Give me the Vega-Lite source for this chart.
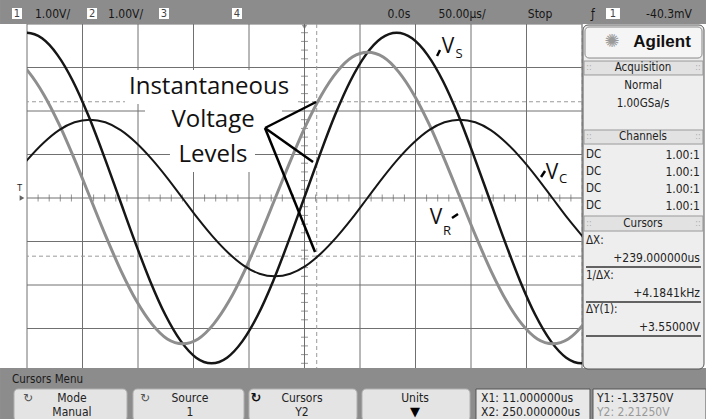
{
"$schema": "https://vega.github.io/schema/vega-lite/v6.json",
"width": 555, "height": 348,
"autosize": "none",
"padding": {"left": 27, "top": 24, "right": 124, "bottom": 47},
"background": "white",
"config": {"view": {"stroke": null}, "axis": {"disable": true}},
"datasets": {
"curves": [
{"s":"Vs","t":-264.2,"v":3.67},{"s":"Vs","t":-250.3,"v":3.8},{"s":"Vs","t":-236.4,"v":3.67},{"s":"Vs","t":-222.6,"v":3.29},{"s":"Vs","t":-208.7,"v":2.69},{"s":"Vs","t":-194.8,"v":1.9},{"s":"Vs","t":-180.9,"v":0.98},{"s":"Vs","t":-167.0,"v":0},{"s":"Vs","t":-153.1,"v":-0.98},{"s":"Vs","t":-139.2,"v":-1.9},{"s":"Vs","t":-125.3,"v":-2.69},{"s":"Vs","t":-111.4,"v":-3.29},{"s":"Vs","t":-97.6,"v":-3.67},{"s":"Vs","t":-83.7,"v":-3.8},{"s":"Vs","t":-69.8,"v":-3.67},{"s":"Vs","t":-55.9,"v":-3.29},{"s":"Vs","t":-42.0,"v":-2.69},{"s":"Vs","t":-28.1,"v":-1.9},{"s":"Vs","t":-14.2,"v":-0.98},{"s":"Vs","t":-0.3,"v":0},{"s":"Vs","t":13.6,"v":0.98},{"s":"Vs","t":27.4,"v":1.9},{"s":"Vs","t":41.3,"v":2.69},{"s":"Vs","t":55.2,"v":3.29},{"s":"Vs","t":69.1,"v":3.67},{"s":"Vs","t":83,"v":3.8},{"s":"Vs","t":96.9,"v":3.67},{"s":"Vs","t":110.8,"v":3.29},{"s":"Vs","t":124.7,"v":2.69},{"s":"Vs","t":138.6,"v":1.9},{"s":"Vs","t":152.4,"v":0.98},{"s":"Vs","t":166.3,"v":0},{"s":"Vs","t":180.2,"v":-0.98},{"s":"Vs","t":194.1,"v":-1.9},{"s":"Vs","t":208,"v":-2.69},{"s":"Vs","t":221.9,"v":-3.29},{"s":"Vs","t":235.8,"v":-3.67},{"s":"Vs","t":249.7,"v":-3.8},{"s":"Vs","t":263.6,"v":-3.67},
{"s":"VR","t":-262.4,"v":3.24},{"s":"VR","t":-248.6,"v":2.9},{"s":"VR","t":-234.7,"v":2.37},{"s":"VR","t":-220.8,"v":1.68},{"s":"VR","t":-206.9,"v":0.87},{"s":"VR","t":-193.0,"v":0},{"s":"VR","t":-179.1,"v":-0.87},{"s":"VR","t":-165.2,"v":-1.68},{"s":"VR","t":-151.3,"v":-2.37},{"s":"VR","t":-137.4,"v":-2.9},{"s":"VR","t":-123.6,"v":-3.24},{"s":"VR","t":-109.7,"v":-3.35},{"s":"VR","t":-95.8,"v":-3.24},{"s":"VR","t":-81.9,"v":-2.9},{"s":"VR","t":-68.0,"v":-2.37},{"s":"VR","t":-54.1,"v":-1.68},{"s":"VR","t":-40.2,"v":-0.87},{"s":"VR","t":-26.3,"v":0},{"s":"VR","t":-12.4,"v":0.87},{"s":"VR","t":1.4,"v":1.68},{"s":"VR","t":15.3,"v":2.37},{"s":"VR","t":29.2,"v":2.9},{"s":"VR","t":43.1,"v":3.24},{"s":"VR","t":57,"v":3.35},{"s":"VR","t":70.9,"v":3.24},{"s":"VR","t":84.8,"v":2.9},{"s":"VR","t":98.7,"v":2.37},{"s":"VR","t":112.6,"v":1.68},{"s":"VR","t":126.4,"v":0.87},{"s":"VR","t":140.3,"v":0},{"s":"VR","t":154.2,"v":-0.87},{"s":"VR","t":168.1,"v":-1.68},{"s":"VR","t":182,"v":-2.37},{"s":"VR","t":195.9,"v":-2.9},{"s":"VR","t":209.8,"v":-3.24},{"s":"VR","t":223.7,"v":-3.35},{"s":"VR","t":237.6,"v":-3.24},{"s":"VR","t":251.4,"v":-2.9},{"s":"VR","t":265.3,"v":-2.37},
{"s":"Vc","t":-262.8,"v":0.47},{"s":"Vc","t":-248.9,"v":0.9},{"s":"Vc","t":-235.0,"v":1.27},{"s":"Vc","t":-221.1,"v":1.56},{"s":"Vc","t":-207.2,"v":1.74},{"s":"Vc","t":-193.3,"v":1.8},{"s":"Vc","t":-179.4,"v":1.74},{"s":"Vc","t":-165.6,"v":1.56},{"s":"Vc","t":-151.7,"v":1.27},{"s":"Vc","t":-137.8,"v":0.9},{"s":"Vc","t":-123.9,"v":0.47},{"s":"Vc","t":-110.0,"v":0},{"s":"Vc","t":-96.1,"v":-0.47},{"s":"Vc","t":-82.2,"v":-0.9},{"s":"Vc","t":-68.3,"v":-1.27},{"s":"Vc","t":-54.4,"v":-1.56},{"s":"Vc","t":-40.6,"v":-1.74},{"s":"Vc","t":-26.7,"v":-1.8},{"s":"Vc","t":-12.8,"v":-1.74},{"s":"Vc","t":1.1,"v":-1.56},{"s":"Vc","t":15.0,"v":-1.27},{"s":"Vc","t":28.9,"v":-0.9},{"s":"Vc","t":42.8,"v":-0.47},{"s":"Vc","t":56.7,"v":0},{"s":"Vc","t":70.6,"v":0.47},{"s":"Vc","t":84.4,"v":0.9},{"s":"Vc","t":98.3,"v":1.27},{"s":"Vc","t":112.2,"v":1.56},{"s":"Vc","t":126.1,"v":1.74},{"s":"Vc","t":140,"v":1.8},{"s":"Vc","t":153.9,"v":1.74},{"s":"Vc","t":167.8,"v":1.56},{"s":"Vc","t":181.7,"v":1.27},{"s":"Vc","t":195.6,"v":0.9},{"s":"Vc","t":209.4,"v":0.47},{"s":"Vc","t":223.3,"v":0},{"s":"Vc","t":237.2,"v":-0.47},{"s":"Vc","t":251.1,"v":-0.9}
],
"vgrid": [{"t":-250},{"t":-200},{"t":-150},{"t":-100},{"t":-50},{"t":0},{"t":50},{"t":100},{"t":150},{"t":200},{"t":250}],
"hgrid": [{"v":-4},{"v":-3},{"v":-2},{"v":-1},{"v":0},{"v":1},{"v":2},{"v":3},{"v":4}],
"xticks": [{"t":-240},{"t":-230},{"t":-220},{"t":-210},{"t":-190},{"t":-180},{"t":-170},{"t":-160},{"t":-140},{"t":-130},{"t":-120},{"t":-110},{"t":-90},{"t":-80},{"t":-70},{"t":-60},{"t":-40},{"t":-30},{"t":-20},{"t":-10},{"t":10},{"t":20},{"t":30},{"t":40},{"t":60},{"t":70},{"t":80},{"t":90},{"t":110},{"t":120},{"t":130},{"t":140},{"t":160},{"t":170},{"t":180},{"t":190},{"t":210},{"t":220},{"t":230},{"t":240}],
"yticks": [{"v":-3.8},{"v":-3.6},{"v":-3.4},{"v":-3.2},{"v":-2.8},{"v":-2.6},{"v":-2.4},{"v":-2.2},{"v":-1.8},{"v":-1.6},{"v":-1.4},{"v":-1.2},{"v":-0.8},{"v":-0.6},{"v":-0.4},{"v":-0.2},{"v":0.2},{"v":0.4},{"v":0.6},{"v":0.8},{"v":1.2},{"v":1.4},{"v":1.6},{"v":1.8},{"v":2.2},{"v":2.4},{"v":2.6},{"v":2.8},{"v":3.2},{"v":3.4},{"v":3.6},{"v":3.8}],
"cursH": [{"v":2.2125},{"v":-1.3375}],
"cursV": [{"t":11},{"t":250}],
"rects": [
{"k":"bar","t":-274.3,"t2":361.7,"v":4.552,"v2":4.0},
{"k":"bar","t":-274.3,"t2":361.7,"v":-3.908,"v2":-5.1},
{"k":"panel","t":250.9,"t2":359.9,"v":3.977,"v2":-3.931},
{"k":"box","t":252.7,"t2":358.1,"v":3.931,"v2":3.218},
{"k":"hdr","t":251.8,"t2":359.0,"v":3.149,"v2":2.828},
{"k":"hdr","t":251.8,"t2":359.0,"v":1.563,"v2":1.241},
{"k":"hdr","t":251.8,"t2":359.0,"v":-0.414,"v2":-0.759},
{"k":"btn","t":-261.7,"t2":-159.9,"v":-4.391,"v2":-5.126},
{"k":"btn","t":-154.5,"t2":-54.5,"v":-4.391,"v2":-5.126},
{"k":"btn","t":-50.0,"t2":47.3,"v":-4.391,"v2":-5.126},
{"k":"btn","t":51.8,"t2":149.1,"v":-4.391,"v2":-5.126},
{"k":"info","t":154.5,"t2":257.2,"v":-4.391,"v2":-5.126},
{"k":"info","t":259.9,"t2":361.7,"v":-4.391,"v2":-5.126},
{"k":"white","t":-161.7,"t2":-6.8,"v":2.943,"v2":2.161},
{"k":"white","t":-143.7,"t2":-20.3,"v":2.161,"v2":1.379},
{"k":"white","t":-121.2,"t2":-44.6,"v":1.379,"v2":0.598},
{"k":"num","t":-263.5,"t2":-254.5,"v":4.368,"v2":4.115},
{"k":"num","t":-195.9,"t2":-186.9,"v":4.368,"v2":4.115},
{"k":"num","t":-131.1,"t2":-122.1,"v":4.368,"v2":4.115},
{"k":"num","t":-65.3,"t2":-56.3,"v":4.368,"v2":4.115},
{"k":"num","t":271.6,"t2":284.2,"v":4.368,"v2":4.115}
],
"lines": [
{"k":"ul","t":253.6,"t2":357.2,"v":-1.586,"v2":-1.586},
{"k":"ul","t":253.6,"t2":357.2,"v":-2.391,"v2":-2.391},
{"k":"ul","t":253.6,"t2":357.2,"v":-3.172,"v2":-3.172},
{"k":"ptr","t":-35.6,"t2":10.4,"v":1.609,"v2":2.207},
{"k":"ptr","t":-35.6,"t2":7.7,"v":1.609,"v2":0.828},
{"k":"ptr","t":-35.6,"t2":9.5,"v":1.609,"v2":-1.241},
{"k":"ptr","t":119.4,"t2":122.1,"v":3.264,"v2":3.402},
{"k":"ptr","t":213.1,"t2":216.7,"v":0.483,"v2":0.621},
{"k":"ptr","t":132.9,"t2":138.3,"v":-0.46,"v2":-0.368}
],
"texts": [
{"k":"top","t":-242.8,"v":4.241,"label":"1.00V/"},
{"k":"top","t":-177.0,"v":4.241,"label":"1.00V/"},
{"k":"topc","t":85.1,"v":4.241,"label":"0.0s"},
{"k":"topc","t":141.9,"v":4.241,"label":"50.00µs/"},
{"k":"topc","t":212.2,"v":4.241,"label":"Stop"},
{"k":"topc","t":259.9,"v":4.241,"label":"ƒ"},
{"k":"topc","t":328.4,"v":4.241,"label":"-40.3mV"},
{"k":"num","t":-259.0,"v":4.241,"label":"1"},
{"k":"num","t":-191.4,"v":4.241,"label":"2"},
{"k":"num","t":-126.6,"v":4.241,"label":"3"},
{"k":"num","t":-60.8,"v":4.241,"label":"4"},
{"k":"num","t":277.9,"v":4.241,"label":"1"},
{"k":"brand","t":322.1,"v":3.586,"label":"Agilent"},
{"k":"star","t":277.0,"v":3.586,"label":"✺"},
{"k":"pc","t":305.0,"v":2.989,"label":"Acquisition"},
{"k":"pc","t":305.0,"v":2.575,"label":"Normal"},
{"k":"pc","t":305.0,"v":2.161,"label":"1.00GSa/s"},
{"k":"pc","t":305.0,"v":1.402,"label":"Channels"},
{"k":"pc","t":305.0,"v":-0.598,"label":"Cursors"},
{"k":"grip","t":256.3,"v":2.989,"label":"::"},
{"k":"grip","t":354.5,"v":2.989,"label":"::"},
{"k":"grip","t":256.3,"v":1.402,"label":"::"},
{"k":"grip","t":354.5,"v":1.402,"label":"::"},
{"k":"grip","t":256.3,"v":-0.598,"label":"::"},
{"k":"grip","t":354.5,"v":-0.598,"label":"::"},
{"k":"pl","t":253.6,"v":0.989,"label":"DC"},
{"k":"pl","t":253.6,"v":0.598,"label":"DC"},
{"k":"pl","t":253.6,"v":0.207,"label":"DC"},
{"k":"pl","t":253.6,"v":-0.184,"label":"DC"},
{"k":"pl","t":253.6,"v":-0.989,"label":"ΔX:"},
{"k":"pl","t":253.6,"v":-1.793,"label":"1/ΔX:"},
{"k":"pl","t":253.6,"v":-2.575,"label":"ΔY(1):"},
{"k":"pr","t":356.3,"v":0.989,"label":"1.00:1"},
{"k":"pr","t":356.3,"v":0.598,"label":"1.00:1"},
{"k":"pr","t":356.3,"v":0.207,"label":"1.00:1"},
{"k":"pr","t":356.3,"v":-0.184,"label":"1.00:1"},
{"k":"pr","t":356.3,"v":-1.379,"label":"+239.000000us"},
{"k":"pr","t":356.3,"v":-2.184,"label":"+4.1841kHz"},
{"k":"pr","t":356.3,"v":-2.966,"label":"+3.55000V"},
{"k":"menu","t":-263.5,"v":-4.184,"label":"Cursors Menu"},
{"k":"btn","t":-209.5,"v":-4.598,"label":"Mode"},
{"k":"btn","t":-209.5,"v":-4.92,"label":"Manual"},
{"k":"btn","t":-103.2,"v":-4.598,"label":"Source"},
{"k":"btn","t":-103.2,"v":-4.92,"label":"1"},
{"k":"btn","t":-2.3,"v":-4.598,"label":"Cursors"},
{"k":"btn","t":-2.3,"v":-4.92,"label":"Y2"},
{"k":"btn","t":99.5,"v":-4.598,"label":"Units"},
{"k":"icon","t":-249.1,"v":-4.598,"label":"↻"},
{"k":"icon","t":-143.7,"v":-4.598,"label":"↻"},
{"k":"iconb","t":-43.7,"v":-4.598,"label":"↻"},
{"k":"arrow","t":99.5,"v":-4.92,"label":"▼"},
{"k":"info","t":159.0,"v":-4.598,"label":"X1: 11.000000us"},
{"k":"info","t":159.0,"v":-4.92,"label":"X2: 250.000000us"},
{"k":"info","t":263.5,"v":-4.598,"label":"Y1: -1.33750V"},
{"k":"infog","t":263.5,"v":-4.92,"label":"Y2: 2.21250V"},
{"k":"ann","t":-86.0,"v":2.552,"label":"Instantaneous"},
{"k":"ann","t":-82.4,"v":1.793,"label":"Voltage"},
{"k":"ann","t":-82.4,"v":0.989,"label":"Levels"},
{"k":"V","t":129.3,"v":3.471,"label":"V"},
{"k":"V","t":223.0,"v":0.575,"label":"V"},
{"k":"V","t":118.5,"v":-0.46,"label":"V"},
{"k":"sub","t":136.0,"v":3.299,"label":"S"},
{"k":"sub","t":229.3,"v":0.437,"label":"C"},
{"k":"sub","t":124.8,"v":-0.759,"label":"R"},
{"k":"gnd","t":-256.5,"v":0.207,"label":"T"}
],
"marks": [
{"k":"trig","t":0,"v":3.931},
{"k":"gnd","t":-254.5,"v":0}
]
},
"layer": [
{"data": {"name": "vgrid"}, "mark": {"type": "rule", "color": "#707070", "strokeWidth": 1},
 "encoding": {"x": {"field": "t", "type": "quantitative", "scale": {"domain": [-250, 250], "nice": false, "zero": false}, "axis": null}}},
{"data": {"name": "hgrid"}, "mark": {"type": "rule", "color": "#707070", "strokeWidth": 1},
 "encoding": {"y": {"field": "v", "type": "quantitative", "scale": {"domain": [-4, 4], "nice": false, "zero": false}, "axis": null}}},
{"data": {"name": "xticks"}, "mark": {"type": "tick", "color": "#666", "thickness": 1, "size": 7, "orient": "vertical"},
 "encoding": {"x": {"field": "t", "type": "quantitative", "axis": null}}},
{"data": {"name": "yticks"}, "mark": {"type": "tick", "color": "#666", "thickness": 1, "size": 7, "orient": "horizontal"},
 "encoding": {"y": {"field": "v", "type": "quantitative", "axis": null}}},
{"data": {"name": "cursH"}, "mark": {"type": "rule", "color": "#9a9a9a", "strokeWidth": 1, "strokeDash": [4, 3]},
 "encoding": {"y": {"field": "v", "type": "quantitative", "axis": null}}},
{"data": {"name": "cursV"}, "mark": {"type": "rule", "color": "#9a9a9a", "strokeWidth": 1, "strokeDash": [4, 3]},
 "encoding": {"x": {"field": "t", "type": "quantitative", "axis": null}}},
{"encoding": {
  "x": {"field": "t", "type": "quantitative", "scale": {"domain": [-250, 250], "nice": false, "zero": false}, "axis": null},
  "y": {"field": "v", "type": "quantitative", "scale": {"domain": [-4, 4], "nice": false, "zero": false}, "axis": null}
 },
 "layer": [
{"data": {"name": "curves"}, "mark": {"type": "line", "clip": true, "interpolate": "monotone"},
 "encoding": {
  "color": {"field": "s", "type": "nominal", "scale": {"domain": ["VR", "Vs", "Vc"], "range": ["#8e8e8e", "#161616", "#161616"]}, "legend": null},
  "strokeWidth": {"field": "s", "type": "nominal", "scale": {"domain": ["VR", "Vs", "Vc"], "range": [3, 2, 2.8]}, "legend": null}
 }},
{"data": {"name": "marks"}, "transform": [{"filter": "datum.k == 'trig'"}], "mark": {"type": "point", "shape": "triangle-down", "filled": true, "color": "#666", "size": 30}},
{"data": {"name": "marks"}, "transform": [{"filter": "datum.k == 'gnd'"}], "mark": {"type": "point", "shape": "triangle-right", "filled": true, "color": "#222", "size": 30}},
{"data": {"name": "rects"}, "transform": [{"filter": "datum.k == 'bar'"}], "mark": {"type": "rect", "fill": "#8c8c8c"},
 "encoding": {"x2": {"field": "t2"}, "y2": {"field": "v2"}}},
{"data": {"name": "rects"}, "transform": [{"filter": "datum.k == 'panel'"}], "mark": {"type": "rect", "fill": "#eeeeee", "stroke": "#555", "strokeWidth": 1, "cornerRadius": 5},
 "encoding": {"x2": {"field": "t2"}, "y2": {"field": "v2"}}},
{"data": {"name": "rects"}, "transform": [{"filter": "datum.k == 'box'"}], "mark": {"type": "rect", "fill": "#f5f5f5", "stroke": "#888", "strokeWidth": 1, "cornerRadius": 4},
 "encoding": {"x2": {"field": "t2"}, "y2": {"field": "v2"}}},
{"data": {"name": "rects"}, "transform": [{"filter": "datum.k == 'hdr'"}], "mark": {"type": "rect", "fill": "#e2e2e2", "stroke": "#999", "strokeWidth": 1},
 "encoding": {"x2": {"field": "t2"}, "y2": {"field": "v2"}}},
{"data": {"name": "rects"}, "transform": [{"filter": "datum.k == 'btn'"}], "mark": {"type": "rect", "fill": "#e4e4e4", "stroke": "#b0b0b0", "strokeWidth": 1, "cornerRadius": 4},
 "encoding": {"x2": {"field": "t2"}, "y2": {"field": "v2"}}},
{"data": {"name": "rects"}, "transform": [{"filter": "datum.k == 'info'"}], "mark": {"type": "rect", "fill": "#e8e8e8", "stroke": "#555", "strokeWidth": 1},
 "encoding": {"x2": {"field": "t2"}, "y2": {"field": "v2"}}},
{"data": {"name": "rects"}, "transform": [{"filter": "datum.k == 'white'"}], "mark": {"type": "rect", "fill": "white"},
 "encoding": {"x2": {"field": "t2"}, "y2": {"field": "v2"}}},
{"data": {"name": "rects"}, "transform": [{"filter": "datum.k == 'num'"}], "mark": {"type": "rect", "fill": "white"},
 "encoding": {"x2": {"field": "t2"}, "y2": {"field": "v2"}}},
{"data": {"name": "lines"}, "transform": [{"filter": "datum.k == 'ul'"}], "mark": {"type": "rule", "color": "#333", "strokeWidth": 1.5},
 "encoding": {"x2": {"field": "t2"}, "y2": {"field": "v2"}}},
{"data": {"name": "lines"}, "transform": [{"filter": "datum.k == 'ptr'"}], "mark": {"type": "rule", "color": "#000", "strokeWidth": 2.5},
 "encoding": {"x2": {"field": "t2"}, "y2": {"field": "v2"}}},
{"data": {"name": "texts"}, "transform": [{"filter": "datum.k == 'top'"}], "mark": {"type": "text", "align": "left", "baseline": "middle", "font": "DejaVu Sans Condensed, Liberation Sans Narrow, DejaVu Sans, sans-serif", "fontSize": 12, "color": "#161616"},
 "encoding": {"text": {"field": "label"}}},
{"data": {"name": "texts"}, "transform": [{"filter": "datum.k == 'topc'"}], "mark": {"type": "text", "align": "center", "baseline": "middle", "font": "DejaVu Sans Condensed, Liberation Sans Narrow, DejaVu Sans, sans-serif", "fontSize": 12, "color": "#161616"},
 "encoding": {"text": {"field": "label"}}},
{"data": {"name": "texts"}, "transform": [{"filter": "datum.k == 'num'"}], "mark": {"type": "text", "align": "center", "baseline": "middle", "font": "DejaVu Sans Condensed, Liberation Sans Narrow, DejaVu Sans, sans-serif", "fontSize": 11, "color": "#444"},
 "encoding": {"text": {"field": "label"}}},
{"data": {"name": "texts"}, "transform": [{"filter": "datum.k == 'brand'"}], "mark": {"type": "text", "align": "center", "baseline": "middle", "font": "Liberation Sans, Arial, sans-serif", "fontWeight": "bold", "fontSize": 17, "color": "#111"},
 "encoding": {"text": {"field": "label"}}},
{"data": {"name": "texts"}, "transform": [{"filter": "datum.k == 'star'"}], "mark": {"type": "text", "align": "center", "baseline": "middle", "font": "DejaVu Sans", "fontSize": 18, "color": "#9a9a9a"},
 "encoding": {"text": {"field": "label"}}},
{"data": {"name": "texts"}, "transform": [{"filter": "datum.k == 'pc'"}], "mark": {"type": "text", "align": "center", "baseline": "middle", "font": "DejaVu Sans Condensed, Liberation Sans Narrow, DejaVu Sans, sans-serif", "fontSize": 11.5, "color": "#222"},
 "encoding": {"text": {"field": "label"}}},
{"data": {"name": "texts"}, "transform": [{"filter": "datum.k == 'grip'"}], "mark": {"type": "text", "align": "center", "baseline": "middle", "font": "DejaVu Sans", "fontSize": 8, "color": "#aaa"},
 "encoding": {"text": {"field": "label"}}},
{"data": {"name": "texts"}, "transform": [{"filter": "datum.k == 'pl'"}], "mark": {"type": "text", "align": "left", "baseline": "middle", "font": "DejaVu Sans Condensed, Liberation Sans Narrow, DejaVu Sans, sans-serif", "fontSize": 11.5, "color": "#222"},
 "encoding": {"text": {"field": "label"}}},
{"data": {"name": "texts"}, "transform": [{"filter": "datum.k == 'pr'"}], "mark": {"type": "text", "align": "right", "baseline": "middle", "font": "DejaVu Sans Condensed, Liberation Sans Narrow, DejaVu Sans, sans-serif", "fontSize": 12, "color": "#222"},
 "encoding": {"text": {"field": "label"}}},
{"data": {"name": "texts"}, "transform": [{"filter": "datum.k == 'menu'"}], "mark": {"type": "text", "align": "left", "baseline": "middle", "font": "DejaVu Sans Condensed, Liberation Sans Narrow, DejaVu Sans, sans-serif", "fontSize": 11.5, "color": "#1a1a1a"},
 "encoding": {"text": {"field": "label"}}},
{"data": {"name": "texts"}, "transform": [{"filter": "datum.k == 'btn'"}], "mark": {"type": "text", "align": "center", "baseline": "middle", "font": "DejaVu Sans Condensed, Liberation Sans Narrow, DejaVu Sans, sans-serif", "fontSize": 12, "color": "#222"},
 "encoding": {"text": {"field": "label"}}},
{"data": {"name": "texts"}, "transform": [{"filter": "datum.k == 'icon'"}], "mark": {"type": "text", "align": "center", "baseline": "middle", "font": "DejaVu Sans", "fontSize": 12, "color": "#555"},
 "encoding": {"text": {"field": "label"}}},
{"data": {"name": "texts"}, "transform": [{"filter": "datum.k == 'iconb'"}], "mark": {"type": "text", "align": "center", "baseline": "middle", "font": "DejaVu Sans", "fontWeight": "bold", "fontSize": 13, "color": "#111"},
 "encoding": {"text": {"field": "label"}}},
{"data": {"name": "texts"}, "transform": [{"filter": "datum.k == 'arrow'"}], "mark": {"type": "text", "align": "center", "baseline": "middle", "font": "DejaVu Sans", "fontSize": 13, "color": "#000"},
 "encoding": {"text": {"field": "label"}}},
{"data": {"name": "texts"}, "transform": [{"filter": "datum.k == 'info'"}], "mark": {"type": "text", "align": "left", "baseline": "middle", "font": "DejaVu Sans Condensed, Liberation Sans Narrow, DejaVu Sans, sans-serif", "fontSize": 12, "color": "#222"},
 "encoding": {"text": {"field": "label"}}},
{"data": {"name": "texts"}, "transform": [{"filter": "datum.k == 'infog'"}], "mark": {"type": "text", "align": "left", "baseline": "middle", "font": "DejaVu Sans Condensed, Liberation Sans Narrow, DejaVu Sans, sans-serif", "fontSize": 12, "color": "#999"},
 "encoding": {"text": {"field": "label"}}},
{"data": {"name": "texts"}, "transform": [{"filter": "datum.k == 'ann'"}], "mark": {"type": "text", "align": "center", "baseline": "middle", "font": "Open Sans", "fontSize": 24, "color": "#111"},
 "encoding": {"text": {"field": "label"}}},
{"data": {"name": "texts"}, "transform": [{"filter": "datum.k == 'V'"}], "mark": {"type": "text", "align": "center", "baseline": "middle", "font": "Open Sans", "fontSize": 21, "color": "#111"},
 "encoding": {"text": {"field": "label"}}},
{"data": {"name": "texts"}, "transform": [{"filter": "datum.k == 'sub'"}], "mark": {"type": "text", "align": "left", "baseline": "middle", "font": "Open Sans", "fontSize": 13, "color": "#111"},
 "encoding": {"text": {"field": "label"}}},
{"data": {"name": "texts"}, "transform": [{"filter": "datum.k == 'gnd'"}], "mark": {"type": "text", "align": "center", "baseline": "middle", "font": "DejaVu Sans", "fontSize": 8, "color": "#222"},
 "encoding": {"text": {"field": "label"}}}
 ]}
]
}
